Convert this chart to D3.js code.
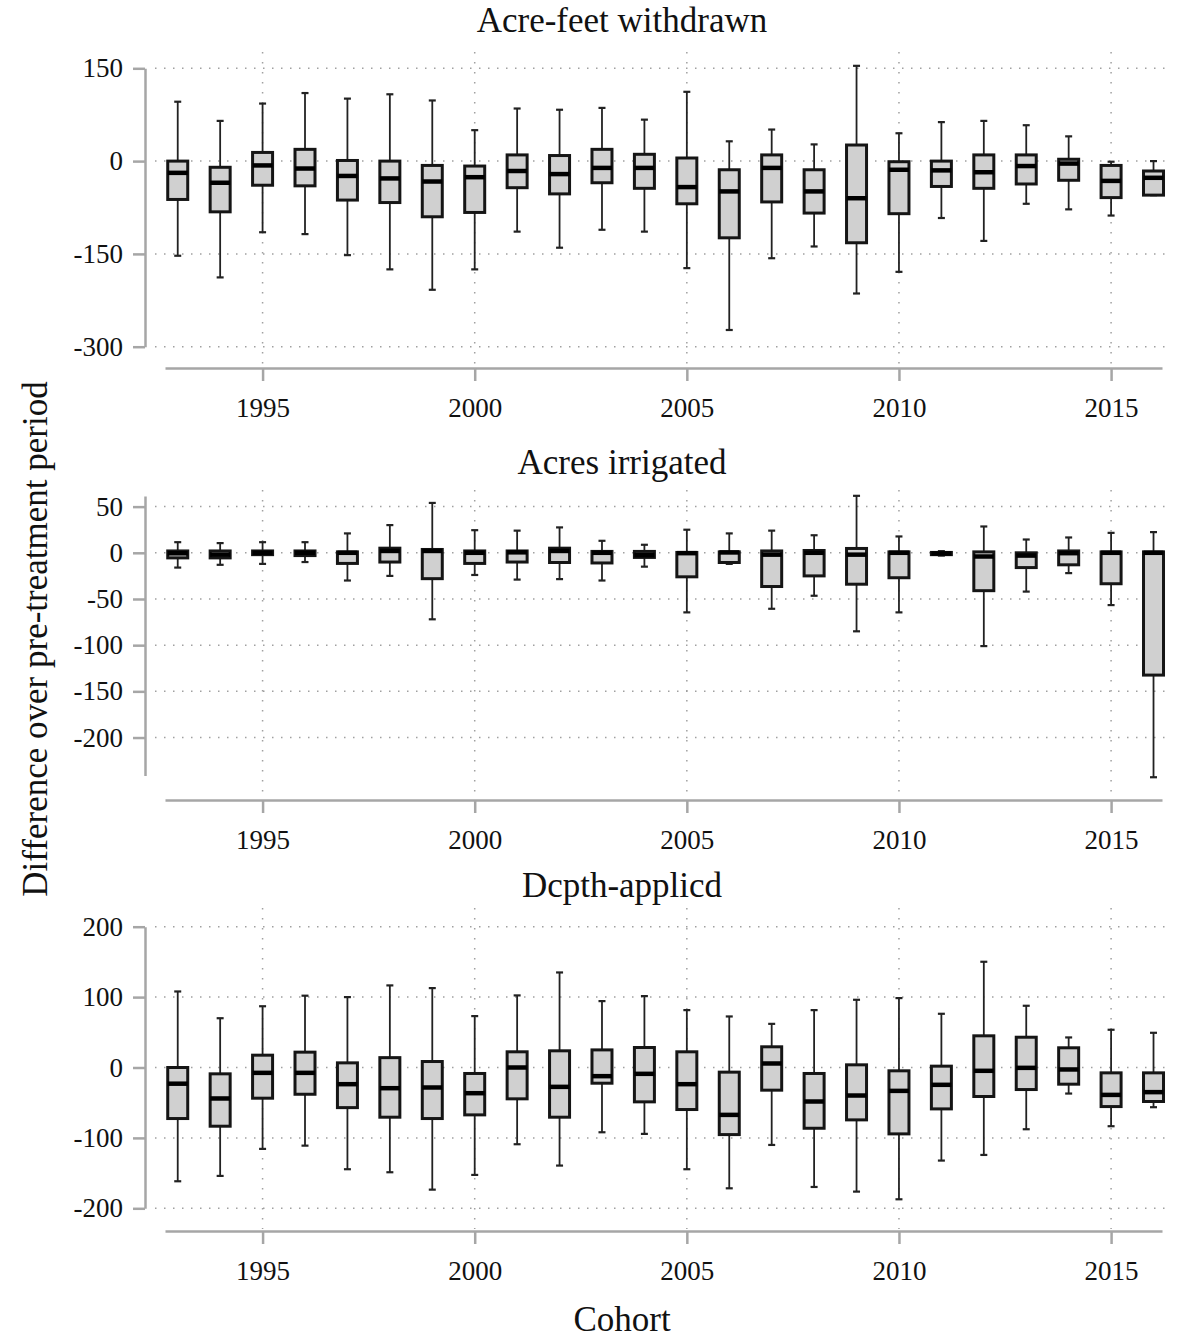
<!DOCTYPE html>
<html>
<head>
<meta charset="utf-8">
<script src="https://cdn.jsdelivr.net/npm/d3@7/dist/d3.min.js"></script>
<style>
  html, body { margin: 0; padding: 0; background: #fff; }
  svg { display: block; }
  text { font-family: "Liberation Serif", "Times New Roman", serif; fill: #111; }
</style>
</head>
<body>
<script>
// Cohort years (x categories)
const cohorts = [1993, 1994, 1995, 1996, 1997, 1998, 1999, 2000, 2001, 2002, 2003, 2004,
                 2005, 2006, 2007, 2008, 2009, 2010, 2011, 2012, 2013, 2014, 2015, 2016];
const yearTicks = [1995, 2000, 2005, 2010, 2015];

// Acre-feet withdrawn: whisker ends, quartiles and medians per cohort
const withdrawnHigh = [96, 65, 93, 110, 101, 108, 98, 50, 85, 83, 86, 67, 112, 32, 51, 27, 154, 45, 63, 65, 58, 40, -1, 0];
const withdrawnQ3   = [0, -10, 14, 19, 1, 0, -7, -8, 10, 9, 19, 11, 5, -14, 10, -14, 26, -1, 0, 10, 10, 3, -7, -16];
const withdrawnMed  = [-19, -35, -7, -12, -24, -28, -33, -26, -16, -21, -11, -11, -42, -49, -11, -49, -60, -14, -15, -18, -8, -4, -32, -27];
const withdrawnQ1   = [-62, -82, -39, -40, -63, -67, -90, -83, -43, -53, -35, -44, -69, -124, -66, -84, -132, -85, -41, -44, -37, -31, -59, -55];
const withdrawnLow  = [-153, -188, -115, -118, -152, -175, -208, -175, -114, -140, -111, -114, -173, -273, -157, -138, -214, -179, -92, -129, -69, -78, -88, -55];
const withdrawnTicks = [150, 0, -150, -300];

// Acres irrigated
const irrigatedHigh = [11.5, 10.5, 11.5, 11.5, 21, 30, 54, 24.5, 24, 27.5, 13, 8.7, 25, 21, 24, 19, 61.7, 17.7, 1.8, 28.5, 14.4, 16.6, 21.6, 22.4];
const irrigatedQ3   = [2, 2, 2, 2, 1, 5, 3.6, 2, 2, 5, 1.5, 1.5, 0.4, 1, 2, 2.5, 4.7, 1, 0.4, 1, 0, 2, 1, 1];
const irrigatedMed  = [-0.5, -2, 0, 0, 0, 2, 2, 0, 0.5, 2, 0, -2.5, -0.4, 0.4, -2, 0, -2, 0, -0.7, -4, -3, -0.4, 0, 0];
const irrigatedQ1   = [-5.5, -5.5, -2, -3, -11.5, -10, -28, -11.5, -10, -10.5, -11, -5, -26, -10.5, -36.5, -25, -34, -27, -2, -41, -16, -13, -33.5, -132.4];
const irrigatedLow  = [-16, -13, -12, -10, -30, -25, -72, -24, -29, -28.5, -30, -15, -64.5, -12, -60.6, -46.5, -85, -64.5, -3, -101, -42, -22, -56.6, -243];
const irrigatedTicks = [50, 0, -50, -100, -150, -200];

// Depth applied
const depthHigh = [108, 70, 87, 102, 100, 116.6, 112.8, 73, 102.4, 135, 94.3, 101.4, 81.5, 72.5, 62, 81.5, 96.2, 98.6, 76.3, 150.2, 87.7, 42.7, 53.6, 49.3];
const depthQ3   = [0, -9, 17.5, 21.8, 6.6, 14, 8.5, -8.5, 22.3, 23.7, 25, 28.4, 22.3, -6.6, 29.4, -8.5, 3.8, -4.7, 1.9, 45, 43, 28, -7.6, -7.6];
const depthMed  = [-23, -44, -7.6, -7.6, -23.7, -29.4, -28.4, -36.5, 0, -27.5, -12.3, -9, -23.7, -67.3, 5.7, -48.3, -39.8, -33.2, -24.6, -4.7, -0.5, -2.8, -38.9, -35];
const depthQ1   = [-72.5, -83.4, -43.6, -38, -57, -70.6, -72.5, -67.3, -44.5, -70.6, -22.3, -48.8, -59.7, -95.3, -32.2, -86.3, -74.4, -94.3, -58.8, -41.2, -31.3, -23.7, -55.5, -48.3];
const depthLow  = [-161.6, -154, -115.6, -111, -144.5, -148.8, -173.5, -152.6, -109, -139.3, -92, -94.3, -144.5, -171.6, -110, -169.7, -176.3, -187.2, -132.2, -124.2, -87.7, -37, -83.4, -56.4];
const depthTicks = [200, 100, 0, -100, -200];

const W = 1185, H = 1339;
const svg = d3.select("body").append("svg").attr("width", W).attr("height", H);

const x = d3.scaleLinear().domain([1992.7, 2016.2]).range([165, 1162]);

const panels = [
  { title: "Acre-feet withdrawn", titleY: 32, yDomain: [-300, 150], yRange: [346.7, 68.3],
    ticks: withdrawnTicks, axisY: 368, gridTop: 52,
    high: withdrawnHigh, q3: withdrawnQ3, med: withdrawnMed, q1: withdrawnQ1, low: withdrawnLow },
  { title: "Acres irrigated", titleY: 474, yDomain: [-241, 61.5], yRange: [775.4, 496.0],
    ticks: irrigatedTicks, axisY: 800, gridTop: 490,
    high: irrigatedHigh, q3: irrigatedQ3, med: irrigatedMed, q1: irrigatedQ1, low: irrigatedLow },
  { title: "Dcpth-applicd", titleY: 897, yDomain: [-200, 200], yRange: [1208.3, 926.7],
    ticks: depthTicks, axisY: 1231, gridTop: 908,
    high: depthHigh, q3: depthQ3, med: depthMed, q1: depthQ1, low: depthLow }
];

const axisGray = "#a6a6a6";
const gridGray = "#a0a0a0";
const boxW = 20, capW = 7;

panels.forEach(p => {
  const y = d3.scaleLinear().domain(p.yDomain).range(p.yRange);
  const g = svg.append("g");

  // dotted grid: horizontal at y ticks, vertical at year ticks
  g.selectAll("line.hgrid").data(p.ticks).enter().append("line")
    .attr("x1", 155).attr("x2", 1172)
    .attr("y1", d => y(d)).attr("y2", d => y(d))
    .attr("stroke", gridGray).attr("stroke-width", 1.5)
    .attr("stroke-dasharray", "1.5 7.5");
  g.selectAll("line.vgrid").data(yearTicks).enter().append("line")
    .attr("x1", d => x(d)).attr("x2", d => x(d))
    .attr("y1", p.gridTop).attr("y2", p.axisY - 2)
    .attr("stroke", gridGray).attr("stroke-width", 1.5)
    .attr("stroke-dasharray", "1.5 8.5");

  // y axis
  const ya = g.append("g").attr("transform", "translate(145,0)")
    .call(d3.axisLeft(y).tickValues(p.ticks).tickSize(12).tickSizeOuter(0).tickPadding(10)
      .tickFormat(d3.format("d")));
  ya.select(".domain").attr("stroke", axisGray).attr("stroke-width", 2.5);
  ya.selectAll(".tick line").attr("stroke", axisGray).attr("stroke-width", 2.5);
  ya.selectAll(".tick text").attr("font-family", "Liberation Serif, Times New Roman, serif")
    .attr("font-size", 27).attr("fill", "#111").text(d => d < 0 ? "-" + Math.abs(d) : d);

  // x axis
  const xa = g.append("g").attr("transform", `translate(0,${p.axisY})`)
    .call(d3.axisBottom(x).tickValues(yearTicks).tickSize(13).tickSizeOuter(0).tickPadding(17)
      .tickFormat(d3.format("d")));
  xa.select(".domain").attr("stroke", axisGray).attr("stroke-width", 2.5);
  xa.selectAll(".tick line").attr("stroke", axisGray).attr("stroke-width", 2.5);
  xa.selectAll(".tick text").attr("font-family", "Liberation Serif, Times New Roman, serif")
    .attr("font-size", 27).attr("fill", "#111");

  // panel title
  g.append("text").attr("x", 622).attr("y", p.titleY).attr("text-anchor", "middle")
    .attr("font-size", 35).text(p.title);

  // box plots
  const rows = cohorts.map((c, i) => ({ c, hi: p.high[i], q3: p.q3[i], md: p.med[i], q1: p.q1[i], lo: p.low[i] }));
  const b = g.selectAll("g.box").data(rows).enter().append("g").attr("class", "box");

  b.append("line").attr("x1", d => x(d.c)).attr("x2", d => x(d.c))
    .attr("y1", d => y(d.hi)).attr("y2", d => y(d.q3))
    .attr("stroke", "#222").attr("stroke-width", 1.8);
  b.append("line").attr("x1", d => x(d.c)).attr("x2", d => x(d.c))
    .attr("y1", d => y(d.q1)).attr("y2", d => y(d.lo))
    .attr("stroke", "#222").attr("stroke-width", 1.8);
  b.append("line").attr("x1", d => x(d.c) - capW / 2).attr("x2", d => x(d.c) + capW / 2)
    .attr("y1", d => y(d.hi)).attr("y2", d => y(d.hi))
    .attr("stroke", "#222").attr("stroke-width", 2.2);
  b.append("line").attr("x1", d => x(d.c) - capW / 2).attr("x2", d => x(d.c) + capW / 2)
    .attr("y1", d => y(d.lo)).attr("y2", d => y(d.lo))
    .attr("stroke", "#222").attr("stroke-width", 2.2);
  b.append("rect")
    .attr("x", d => x(d.c) - boxW / 2).attr("width", boxW)
    .attr("y", d => y(d.q3)).attr("height", d => Math.max(0.5, y(d.q1) - y(d.q3)))
    .attr("fill", "#d0d0d0").attr("stroke", "#151515").attr("stroke-width", 3);
  b.append("line").attr("x1", d => x(d.c) - boxW / 2).attr("x2", d => x(d.c) + boxW / 2)
    .attr("y1", d => y(d.md)).attr("y2", d => y(d.md))
    .attr("stroke", "#000").attr("stroke-width", 4.5);
});

// shared axis titles
svg.append("text").attr("transform", "translate(47,639) rotate(-90)")
  .attr("text-anchor", "middle").attr("font-size", 35)
  .text("Difference over pre-treatment period");
svg.append("text").attr("x", 622).attr("y", 1331).attr("text-anchor", "middle")
  .attr("font-size", 35).text("Cohort");
</script>
</body>
</html>
